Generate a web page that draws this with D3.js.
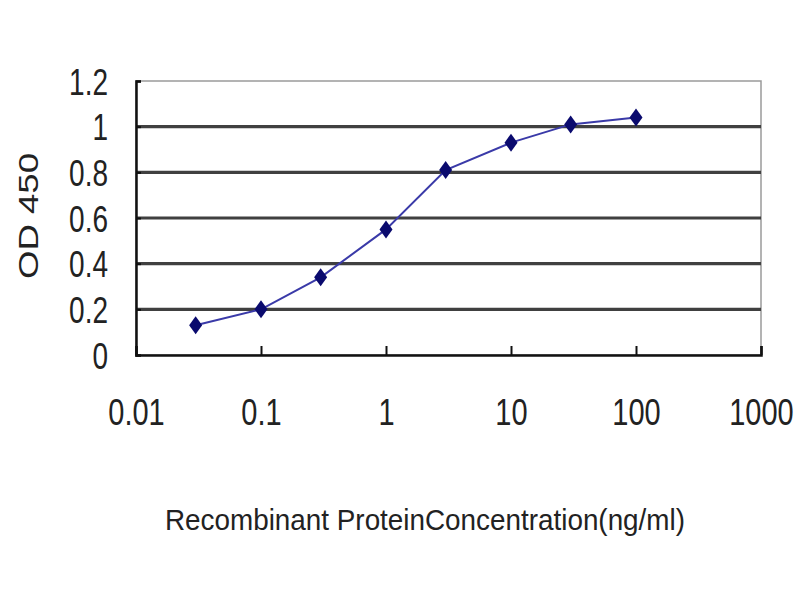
<!DOCTYPE html>
<html><head><meta charset="utf-8">
<script src="https://cdn.jsdelivr.net/npm/d3@7"></script>
<style>body{margin:0;background:#fff}text{font-family:"Liberation Sans",Arial,sans-serif;fill:#222}</style>
</head><body><svg id="c" width="800" height="600"></svg>
<script>
const concentrations = [0.03, 0.1, 0.3, 1, 3, 10, 30, 100];
const od450 = [0.13, 0.2, 0.34, 0.55, 0.81, 0.93, 1.01, 1.04];
const xTicks = [0.01, 0.1, 1, 10, 100, 1000];
const xTickLabels = ["0.01", "0.1", "1", "10", "100", "1000"];
const yTicks = [0, 0.2, 0.4, 0.6, 0.8, 1, 1.2];
const yTickLabels = ["0", "0.2", "0.4", "0.6", "0.8", "1", "1.2"];

const svg = d3.select("#c");
const L = 136, R = 761, T = 81, B = 355;
const x = d3.scaleLog().domain([0.01, 1000]).range([L, R]);
const y = d3.scaleLinear().domain([0, 1.2]).range([B, T]);
const SY = 1.3;

// plot frame (top/right light)
svg.append("rect").attr("x", L).attr("y", T).attr("width", R - L).attr("height", B - T)
  .attr("fill", "#fff").attr("stroke", "#9a9a9a").attr("stroke-width", 1.5);

// gridlines
svg.append("g").selectAll("line").data(yTicks.filter(v => v > 0 && v < 1.2)).join("line")
  .attr("x1", L).attr("x2", R).attr("y1", d => y(d)).attr("y2", d => y(d))
  .attr("stroke", "#404040").attr("stroke-width", 3.2);

// y axis
const yAxis = d3.axisLeft(y).tickValues(yTicks).tickSize(-5).tickPadding(28)
  .tickFormat((d, i) => yTickLabels[i]);
const gy = svg.append("g").attr("transform", `translate(${L},0)`).call(yAxis);
gy.select(".domain").attr("stroke", "#111").attr("stroke-width", 2.5);
gy.selectAll(".tick line").attr("stroke", "#111").attr("stroke-width", 2);
gy.selectAll("text").attr("font-size", 28).attr("fill", "#222")
  .attr("dy", "0.36em").attr("transform", `scale(1,${SY})`);

// x axis
const xAxis = d3.axisBottom(x).tickValues(xTicks).tickSize(-9).tickPadding(0)
  .tickFormat((d, i) => xTickLabels[i]);
const gx = svg.append("g").attr("transform", `translate(0,${B})`).call(xAxis);
gx.select(".domain").attr("stroke", "#111").attr("stroke-width", 2.5);
gx.selectAll(".tick line").attr("stroke", "#111").attr("stroke-width", 2);
gx.selectAll("text").attr("font-size", 29).attr("fill", "#222")
  .attr("y", 70 / SY).attr("dy", 0).attr("transform", `scale(1,${SY})`);

// line
const pts = concentrations.map((c, i) => [c, od450[i]]);
svg.append("path").datum(pts)
  .attr("d", d3.line().x(d => x(d[0])).y(d => y(d[1])))
  .attr("fill", "none").attr("stroke", "#3a3aa8").attr("stroke-width", 2);

// diamond markers
svg.append("g").selectAll("path").data(pts).join("path")
  .attr("transform", d => `translate(${x(d[0])},${y(d[1])})`)
  .attr("d", "M0,-9L6.5,0L0,9L-6.5,0Z")
  .attr("fill", "#0a0a6e");

// axis titles
svg.append("text").attr("transform", `translate(425,530) scale(1,1.2)`).attr("text-anchor", "middle")
  .attr("font-size", 25).attr("fill", "#222")
  .attr("textLength", 520).attr("lengthAdjust", "spacingAndGlyphs")
  .text("Recombinant ProteinConcentration(ng/ml)");
svg.append("text").attr("transform", "translate(38,216) rotate(-90)")
  .attr("text-anchor", "middle").attr("font-size", 28).attr("fill", "#222")
  .attr("textLength", 126).attr("lengthAdjust", "spacingAndGlyphs")
  .text("OD 450");
</script></body></html>
